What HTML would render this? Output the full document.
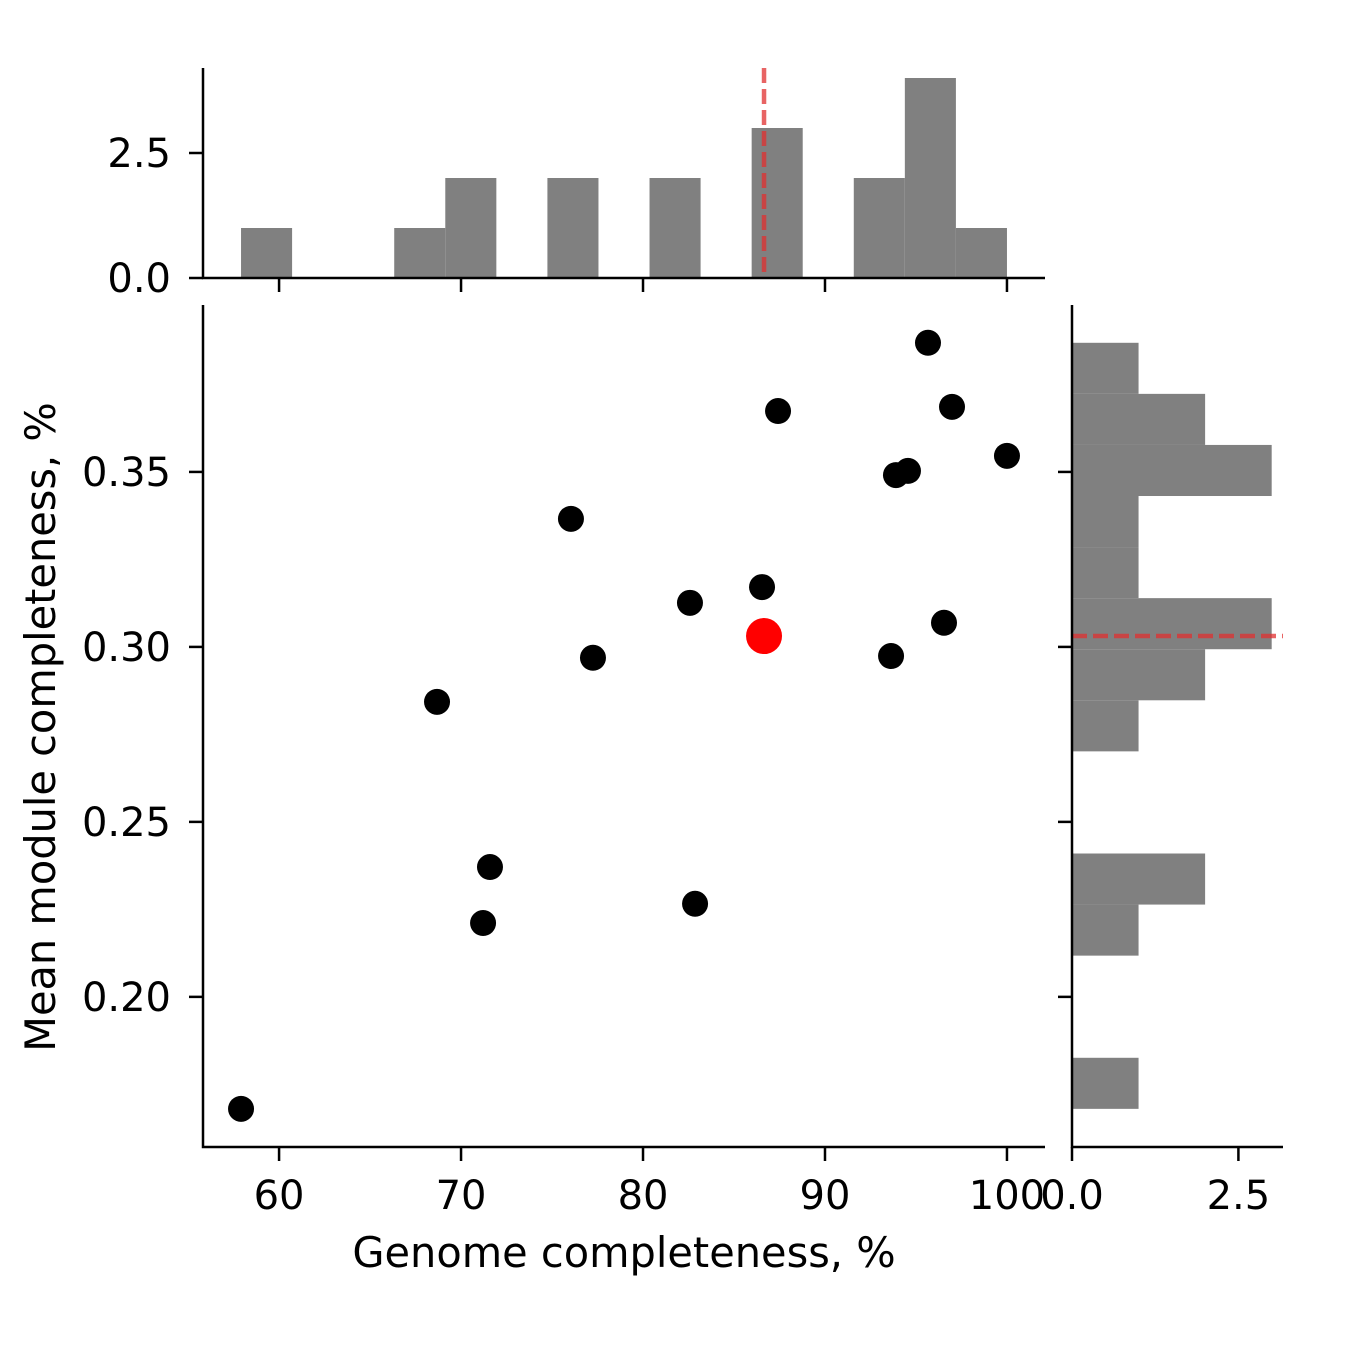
<!DOCTYPE html>
<html><head><meta charset="utf-8"><style>
html,body{margin:0;padding:0;background:#fff;}
svg{display:block;font-family:"DejaVu Sans","Liberation Sans",sans-serif;}
</style></head><body>
<svg id="chart" width="1350" height="1350" viewBox="0 0 1350 1350">
<rect width="1350" height="1350" fill="#fff"/>
<g id="main"></g>
<g id="top"></g>
<g id="right"></g>
<text x="624" y="1267" font-size="41.5" text-anchor="middle">Genome completeness, %</text>
<text transform="translate(55,727) rotate(-90)" font-size="41.5" text-anchor="middle">Mean module completeness, %</text>
</svg>
<script>
const genome = [57.91,68.68,71.21,71.59,76.04,77.25,82.58,82.86,86.54,87.42,93.63,93.90,94.56,95.66,96.54,96.98,100.0];
const modules = [0.168,0.2843,0.2211,0.2371,0.3366,0.2969,0.3126,0.2266,0.3171,0.3674,0.2974,0.3491,0.3503,0.3869,0.3069,0.3686,0.3546];
const highlightGenome = 86.65;
const highlightModule = 0.3031;
const xTicks = [60,70,80,90,100];
const yTicks = [0.20,0.25,0.30,0.35];
const topCounts = [1,0,0,1,2,0,2,0,2,0,3,0,2,4,1];
const rightCounts = [1,0,0,1,2,0,0,1,2,3,1,1,3,2,1];
const histTicks = [0.0,2.5];
const NS="http://www.w3.org/2000/svg";
function mk(p,t,a){const e=document.createElementNS(NS,t);for(const k in a)e.setAttribute(k,a[k]);p.appendChild(e);return e;}
const X0=203,X1=1045,Y0=305,Y1=1147;
const xMin=55.82,xMax=102.09,yMin=0.1571,yMax=0.3977;
const FS=40,TL=14,SW=2.5;
const sx=v=>X0+(v-xMin)/(xMax-xMin)*(X1-X0);
const sy=v=>Y1-(v-yMin)/(yMax-yMin)*(Y1-Y0);
const main=document.getElementById('main'),top_=document.getElementById('top'),right=document.getElementById('right');
genome.forEach((g,i)=>{const c=mk(main,'circle',{cx:sx(g),cy:sy(modules[i]),r:13,fill:'#000'});

});
const hp=mk(main,'circle',{cx:sx(highlightGenome),cy:sy(highlightModule),r:18,fill:'#ff0000'});


mk(main,'path',{d:`M${X0},${Y0}V${Y1}H${X1}`,stroke:'#000','stroke-width':SW,fill:'none'});
xTicks.forEach(t=>{mk(main,'line',{x1:sx(t),x2:sx(t),y1:Y1,y2:Y1+TL,stroke:'#000','stroke-width':SW});
const l=mk(main,'text',{x:sx(t),y:Y1+62,'font-size':FS,'text-anchor':'middle'});l.textContent=t;

});
yTicks.forEach(t=>{mk(main,'line',{x1:X0-TL,x2:X0,y1:sy(t),y2:sy(t),stroke:'#000','stroke-width':SW});
const l=mk(main,'text',{x:X0-32,y:sy(t)+14,'font-size':FS,'text-anchor':'end'});l.textContent=t.toFixed(2);

});
const binLo=57.91,binW=(100-57.91)/15;
const TY0=68,TY1=278,tMax=4.2;
const ty=v=>TY1-v/tMax*(TY1-TY0);
topCounts.forEach((c,i)=>{if(!c)return;const x=sx(binLo+i*binW),w=sx(binLo+(i+1)*binW)-x;
const r=mk(top_,'rect',{x:x,y:ty(c),width:w,height:TY1-ty(c),fill:'#808080'});

});
mk(top_,'line',{x1:sx(highlightGenome),x2:sx(highlightGenome),y1:TY0,y2:TY1,stroke:'#e03030','stroke-opacity':0.75,'stroke-width':4.5,'stroke-dasharray':'15,6'});
mk(top_,'path',{d:`M${X0},${TY0}V${TY1}H${X1}`,stroke:'#000','stroke-width':SW,fill:'none'});
xTicks.forEach(t=>mk(top_,'line',{x1:sx(t),x2:sx(t),y1:TY1,y2:TY1+TL,stroke:'#000','stroke-width':SW}));
histTicks.forEach(t=>{mk(top_,'line',{x1:X0-TL,x2:X0,y1:ty(t),y2:ty(t),stroke:'#000','stroke-width':SW});
const l=mk(top_,'text',{x:X0-32,y:ty(t)+14,'font-size':FS,'text-anchor':'end'});l.textContent=t.toFixed(1);

});
const rLo=0.168,rW=(0.3869-0.168)/15;
const RX0=1072,RX1=1283,rMax=3.17;
const rx=v=>RX0+v/rMax*(RX1-RX0);
rightCounts.forEach((c,i)=>{if(!c)return;const yA=sy(rLo+(i+1)*rW),yB=sy(rLo+i*rW);
const r=mk(right,'rect',{x:RX0,y:yA,width:rx(c)-RX0,height:yB-yA,fill:'#808080'});

});
mk(right,'line',{x1:RX0,x2:RX1,y1:sy(highlightModule),y2:sy(highlightModule),stroke:'#e03030','stroke-opacity':0.75,'stroke-width':4.5,'stroke-dasharray':'15,6'});
mk(right,'path',{d:`M${RX0},${Y0}V${Y1}H${RX1}`,stroke:'#000','stroke-width':SW,fill:'none'});
yTicks.forEach(t=>mk(right,'line',{x1:RX0-TL,x2:RX0,y1:sy(t),y2:sy(t),stroke:'#000','stroke-width':SW}));
histTicks.forEach(t=>{mk(right,'line',{x1:rx(t),x2:rx(t),y1:Y1,y2:Y1+TL,stroke:'#000','stroke-width':SW});
const l=mk(right,'text',{x:rx(t),y:Y1+62,'font-size':FS,'text-anchor':'middle'});l.textContent=t.toFixed(1);

});
</script>
</body></html>
